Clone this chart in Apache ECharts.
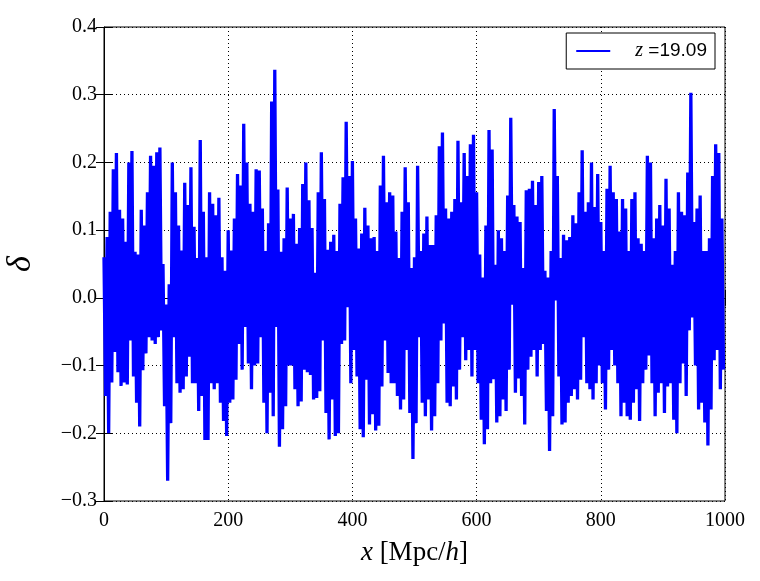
<!DOCTYPE html>
<html>
<head>
<meta charset="utf-8">
<script src="https://cdn.jsdelivr.net/npm/echarts@6/dist/echarts.min.js"></script>
<style>
  html, body { margin: 0; padding: 0; background: #fff; }
  #chart { width: 760px; height: 581px; }
</style>
</head>
<body>
<div id="chart"></div>
<script>
// sampled every 5 Mpc/h: local maximum and local minimum of delta in each window
const step = 5
const upper = [
  0.06, 0.09, 0.127, 0.19, 0.214, 0.13, 0.117, 0.083, 0.2, 0.217,
  0.068, 0.064, 0.13, 0.107, 0.156, 0.21, 0.195, 0.215, 0.222, 0.05,
  -0.01, 0.02, 0.2, 0.156, 0.107, 0.07, 0.17, 0.137, 0.193, 0.105,
  0.059, 0.233, 0.127, 0.06, 0.156, 0.139, 0.122, 0.148, 0.06, 0.04,
  0.1, 0.07, 0.117, 0.183, 0.166, 0.257, 0.2, 0.139, 0.127, 0.19,
  0.188, 0.132, 0.069, 0.11, 0.29, 0.337, 0.16, 0.068, 0.088, 0.163,
  0.117, 0.124, 0.08, 0.103, 0.168, 0.2, 0.144, 0.103, 0.037, 0.156,
  0.215, 0.146, 0.071, 0.083, 0.093, 0.069, 0.139, 0.178, 0.26, 0.18,
  0.202, 0.117, 0.073, 0.095, 0.133, 0.107, 0.088, 0.09, 0.069, 0.166,
  0.21, 0.141, 0.156, 0.151, 0.098, 0.059, 0.127, 0.193, 0.141, 0.044,
  0.06, 0.195, 0.069, 0.095, 0.12, 0.078, 0.078, 0.122, 0.224, 0.244,
  0.132, 0.117, 0.127, 0.146, 0.232, 0.141, 0.214, 0.18, 0.227, 0.241,
  0.156, 0.064, 0.03, 0.107, 0.248, 0.219, 0.049, 0.1, 0.088, 0.069,
  0.151, 0.266, 0.137, 0.12, 0.112, 0.044, 0.159, 0.161, 0.173, 0.137,
  0.171, 0.18, 0.04, 0.03, 0.069, 0.279, 0.18, 0.059, 0.093, 0.085,
  0.09, 0.122, 0.11, 0.156, 0.218, 0.127, 0.141, 0.2, 0.134, 0.183,
  0.112, 0.069, 0.161, 0.195, 0.156, 0.146, 0.098, 0.146, 0.132, 0.069,
  0.146, 0.156, 0.088, 0.08, 0.069, 0.21, 0.2, 0.088, 0.117, 0.137,
  0.107, 0.176, 0.132, 0.049, 0.069, 0.156, 0.127, 0.122, 0.185, 0.303,
  0.112, 0.132, 0.151, 0.069, 0.069, 0.088, 0.18, 0.227, 0.214, 0.117
]
const lower = [
  -0.145, -0.2, -0.125, -0.08, -0.11, -0.13, -0.125, -0.128, -0.063, -0.116,
  -0.155, -0.19, -0.107, -0.082, -0.058, -0.063, -0.068, -0.058, -0.048, -0.16,
  -0.27, -0.185, -0.058, -0.126, -0.14, -0.135, -0.116, -0.087, -0.126, -0.126,
  -0.167, -0.145, -0.21, -0.21, -0.126, -0.135, -0.126, -0.155, -0.182, -0.204,
  -0.155, -0.15, -0.121, -0.068, -0.106, -0.043, -0.097, -0.135, -0.1, -0.097,
  -0.058, -0.155, -0.2, -0.14, -0.175, -0.043, -0.22, -0.194, -0.16, -0.1,
  -0.1, -0.135, -0.16, -0.153, -0.106, -0.11, -0.114, -0.15, -0.148, -0.138,
  -0.063, -0.17, -0.209, -0.15, -0.204, -0.2, -0.068, -0.063, -0.014, -0.126,
  -0.077, -0.116, -0.194, -0.206, -0.121, -0.187, -0.172, -0.196, -0.189, -0.131,
  -0.063, -0.111, -0.126, -0.126, -0.145, -0.165, -0.15, -0.077, -0.17, -0.238,
  -0.185, -0.058, -0.155, -0.175, -0.15, -0.196, -0.175, -0.126, -0.063, -0.038,
  -0.155, -0.16, -0.131, -0.15, -0.106, -0.058, -0.092, -0.077, -0.116, -0.077,
  -0.126, -0.18, -0.216, -0.194, -0.126, -0.12, -0.184, -0.175, -0.15, -0.167,
  -0.106, -0.01, -0.14, -0.119, -0.145, -0.187, -0.106, -0.087, -0.077, -0.116,
  -0.077, -0.068, -0.167, -0.226, -0.175, -0.004, -0.116, -0.187, -0.184, -0.155,
  -0.145, -0.135, -0.15, -0.121, -0.058, -0.126, -0.135, -0.15, -0.126, -0.1,
  -0.126, -0.165, -0.106, -0.077, -0.1, -0.126, -0.175, -0.155, -0.175, -0.18,
  -0.155, -0.135, -0.182, -0.126, -0.106, -0.085, -0.126, -0.175, -0.14, -0.126,
  -0.17, -0.131, -0.126, -0.18, -0.2, -0.126, -0.097, -0.145, -0.048, -0.029,
  -0.1, -0.165, -0.155, -0.184, -0.218, -0.165, -0.092, -0.077, -0.135, -0.106
]
const xTicks = [0, 200, 400, 600, 800, 1000]
const yTicks = [-0.3, -0.2, -0.1, 0.0, 0.1, 0.2, 0.3, 0.4]
const legendLabel = 'z =19.09'

// alternate max / min inside each window so the trace reads as a dense band
const points = []
upper.forEach((u, i) => {
  points.push([i * step, u])
  points.push([i * step + step / 2, lower[i]])
})

const serif = 'Liberation Serif'
const tickFont = { fontFamily: serif, fontSize: 20, color: '#000' }
const fmtY = (v) => {
  const s = Math.abs(v).toFixed(1)
  return v < -1e-9 ? '\u2212' + s : s
}

let chart = echarts.init(document.getElementById('chart'))
chart.setOption({
  animation: false,
  backgroundColor: '#fff',
  grid: {
    left: 104, right: 35, top: 27, bottom: 80,
    outerBoundsMode: 'none', containLabel: false,
    show: true, borderColor: '#000', borderWidth: 1
  },
  legend: {
    data: [legendLabel],
    right: 45, top: 33,
    padding: [8, 8, 8, 10],
    borderColor: '#000', borderWidth: 1, borderRadius: 0,
    backgroundColor: '#fff',
    icon: 'rect', itemWidth: 34, itemHeight: 2, itemGap: 10,
    formatter: () => '{i|z} {n|=19.09}',
    textStyle: {
      rich: {
        i: { fontFamily: serif, fontStyle: 'italic', fontSize: 20, color: '#000', padding: [0, 2, 0, 20] },
        n: { fontFamily: 'Liberation Sans', fontSize: 19, color: '#000' }
      }
    }
  },
  xAxis: [{
    type: 'value', min: 0, max: 1000, interval: 200,
    name: '{i|x} [Mpc/{i|h}]', nameLocation: 'middle', nameGap: 38,
    nameTextStyle: {
      fontFamily: serif, fontSize: 27, color: '#000',
      rich: { i: { fontFamily: serif, fontStyle: 'italic', fontSize: 27, color: '#000' } }
    },
    axisLine: { lineStyle: { color: '#000', width: 1 } },
    axisTick: { inside: true, length: 8, lineStyle: { color: '#000' } },
    axisLabel: Object.assign({ margin: 10, formatter: (v) => xTicks.includes(v) ? String(v) : '' }, tickFont),
    splitLine: { show: true, lineStyle: { color: '#000', type: [1, 3], width: 1 } }
  }, {
    type: 'value', position: 'top', min: 0, max: 1000, interval: 200,
    axisLine: { show: false },
    axisTick: { inside: true, length: 8, lineStyle: { color: '#000' } },
    axisLabel: { show: false }, splitLine: { show: false }
  }],
  yAxis: [{
    type: 'value', min: -0.3, max: 0.4, interval: 0.1,
    name: '\u03b4', nameLocation: 'middle', nameGap: 66, nameRotate: 90,
    nameTextStyle: { fontFamily: serif, fontStyle: 'italic', fontSize: 34, color: '#000' },
    axisLine: { show: true, lineStyle: { color: '#000', width: 1 } },
    axisTick: { inside: true, length: 8, lineStyle: { color: '#000' } },
    axisLabel: Object.assign({ margin: 7, formatter: fmtY }, tickFont),
    splitLine: { show: true, lineStyle: { color: '#000', type: [1, 3], width: 1 } }
  }, {
    type: 'value', position: 'right', min: -0.3, max: 0.4, interval: 0.1,
    axisLine: { show: false },
    axisTick: { inside: true, length: 8, lineStyle: { color: '#000' } },
    axisLabel: { show: false }, splitLine: { show: false }
  }],
  series: [{
    name: legendLabel,
    type: 'line',
    data: points,
    showSymbol: false,
    symbol: 'none',
    color: '#0000ff',
    lineStyle: { color: '#0000ff', width: 3.3, join: 'bevel' },
    z: 3
  }]
})
</script>
</body>
</html>
